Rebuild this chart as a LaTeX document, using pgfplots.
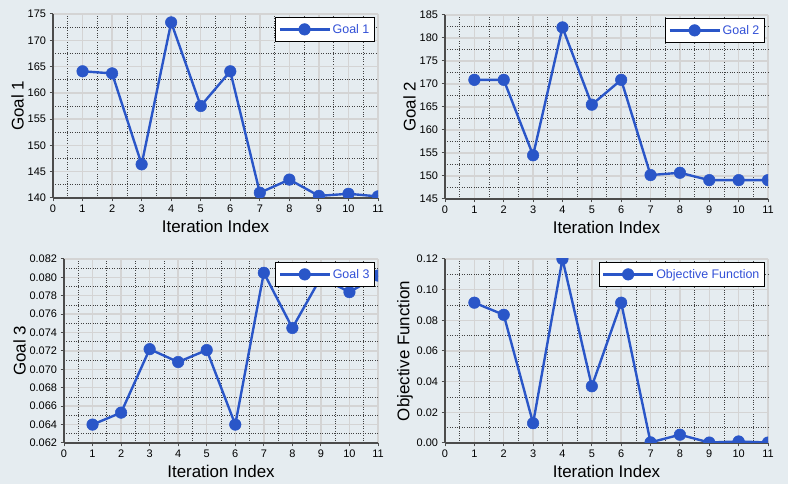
\documentclass[border=0pt]{standalone}
\usepackage{fontspec}
\setmainfont{Liberation Sans}
\usepackage{pgfplots}
\pgfplotsset{compat=1.18}
\definecolor{bg}{RGB}{229,236,240}
\definecolor{lc}{RGB}{42,86,200}
\definecolor{gridc}{RGB}{212,212,212}
\definecolor{legt}{RGB}{50,80,215}
\pgfplotscreateplotcyclelist{mylist}{%
  lc, line width=2.4pt, mark=*, mark size=5.8pt, mark options={fill=lc, draw=lc, line width=0.5pt}\\%
}
\pgfplotsset{
 myax/.style={
  scale only axis, anchor=south west,
  xmin=0, xmax=11, xtick={0,...,11}, minor x tick num=1, minor y tick num=1,
  axis lines=left, axis line style={-, draw=black!70, line width=1.3pt},
  grid=both,
  major grid style={gridc, line width=1.4pt},
  minor grid style={black!75, dotted, line width=0.7pt},
  tick align=outside, major tick length=3.5pt, minor tick length=0pt,
  tick style={black!70, line width=1pt},
  ticklabel style={font=\fontsize{11}{12}\selectfont, text=black},
  /pgf/number format/assume math mode=true,
  scaled y ticks=false,
  xlabel={Iteration Index},
  label style={font=\fontsize{17}{18}\selectfont},
  xlabel style={yshift=-1pt},
  ylabel style={yshift=-3pt},
  clip marker paths=true,
  legend style={at={(0.99,0.985)}, anchor=north east, draw=black, line width=0.8pt,
    fill=white, font=\fontsize{12.5}{13}\selectfont, text=legt,
    inner xsep=3pt, inner ysep=5pt},
  legend cell align=left,
  legend image code/.code={\draw[#1, mark repeat=2, mark phase=2]
     plot coordinates {(0pt,0pt) (25pt,0pt) (50pt,0pt)};},
  cycle list name=mylist,
 }
}
\begin{document}
\begin{tikzpicture}[x=1bp,y=1bp]
\fill[bg, use as bounding box] (0,0) rectangle (788,484);
% Panel 1
\begin{axis}[myax, at={(53bp,286bp)}, width=325bp, height=184bp,
  ymin=140, ymax=175, ytick={140,145,...,175}, ylabel={Goal 1}]
\addplot coordinates {(1,164.1) (2,163.7) (3,146.4) (4,173.4) (5,157.5) (6,164.1) (7,141.0) (8,143.5) (9,140.4) (10,140.8) (11,140.3)};
\addlegendentry{Goal 1}
\end{axis}
% Panel 2
\begin{axis}[myax, at={(445bp,285bp)}, width=323bp, height=184bp,
  ymin=145, ymax=185, ytick={145,150,...,185}, ylabel={Goal 2}]
\addplot coordinates {(1,170.9) (2,170.9) (3,154.5) (4,182.3) (5,165.5) (6,170.9) (7,150.2) (8,150.7) (9,149.1) (10,149.1) (11,149.1)};
\addlegendentry{Goal 2}
\end{axis}
% Panel 3
\begin{axis}[myax, at={(64bp,41bp)}, width=314bp, height=184bp,
  ymin=0.062, ymax=0.082, ytick={0.062,0.064,...,0.0821}, ylabel={Goal 3},
  yticklabel style={/pgf/number format/.cd, fixed, fixed zerofill, precision=3}]
\addplot coordinates {(1,0.0640) (2,0.0653) (3,0.0722) (4,0.0708) (5,0.0721) (6,0.0640) (7,0.0805) (8,0.0745) (9,0.0800) (10,0.0784) (11,0.0802)};
\addlegendentry{Goal 3}
\end{axis}
% Panel 4
\begin{axis}[myax, at={(445bp,41bp)}, width=323bp, height=184bp,
  ymin=0, ymax=0.12, ytick={0,0.02,...,0.121}, ylabel={Objective Function},
  yticklabel style={/pgf/number format/.cd, fixed, fixed zerofill, precision=2}]
\addplot coordinates {(1,0.0915) (2,0.0836) (3,0.0129) (4,0.1200) (5,0.0370) (6,0.0915) (7,0.0004) (8,0.0054) (9,0.0003) (10,0.0010) (11,0.0003)};
\addlegendentry{Objective Function}
\end{axis}
\end{tikzpicture}
\end{document}
